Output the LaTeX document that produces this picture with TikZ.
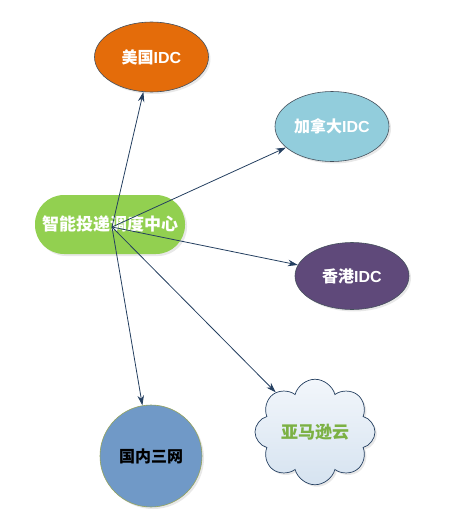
\documentclass[tikz,border=0pt]{standalone}
\usepackage{fontspec}
\setmainfont{Liberation Sans}
\newfontfamily\cjk{Noto Sans CJK SC}
\usetikzlibrary{arrows.meta,shapes.geometric,shapes.symbols,shadows}
\definecolor{hubgreen}{HTML}{92D050}
\definecolor{usaorange}{HTML}{E46C0A}
\definecolor{cadblue}{HTML}{92CDDC}
\definecolor{hkpurple}{HTML}{5F497A}
\definecolor{cnblue}{HTML}{7099C7}
\definecolor{cnrim}{HTML}{94A35C}
\definecolor{rimgray}{HTML}{45505C}
\definecolor{linkblue}{HTML}{243F60}
\definecolor{cloudtop}{HTML}{F2F6FB}
\definecolor{cloudbot}{HTML}{D6E3F0}
\tikzset{
  soft/.style={drop shadow={opacity=0.18, shadow xshift=2pt, shadow yshift=-2pt}},
  idc/.style={ellipse, draw=rimgray, line width=0.6pt, inner sep=0pt, soft,
    minimum width=114pt, minimum height=70pt, text=white,
    font=\fontsize{16}{18}\selectfont\bfseries},
  link/.style={draw=linkblue, line width=0.8pt, -{Stealth[length=10pt,width=6.5pt]}},
}

\begin{document}
\begin{tikzpicture}[x=1pt, y=-1pt]
  \useasboundingbox (0,0) rectangle (453,528);

  \node[fill=hubgreen, rounded corners=29pt, minimum width=150pt, minimum height=59pt, soft,
        text=white, font=\fontsize{17}{19}\selectfont\bfseries\cjk] (hub) at (110,224.5) {智能投递调度中心};
  \coordinate (fan) at (112,227);

  \node[idc, fill=usaorange] (usa) at (151.5,57) {{\cjk 美国}IDC};
  \node[idc, fill=cadblue]   (can) at (332,126.5) {{\cjk 加拿大}IDC};
  \node[idc, fill=hkpurple, minimum height=67pt] (hk) at (352,276) {{\cjk 香港}IDC};

  \node[circle, fill=cnblue, draw=cnrim, line width=0.6pt, minimum size=102pt, inner sep=0pt, soft,
        font=\fontsize{16}{18}\selectfont\bfseries\cjk] (cn) at (151,456) {国内三网};
  \node[cloud, cloud puffs=8, aspect=1.15, draw=linkblue, line width=0.7pt, inner sep=0pt,
        minimum width=120pt, minimum height=105pt, top color=cloudtop, bottom color=cloudbot, soft,
        text=hubgreen!85!black, font=\fontsize{17}{19}\selectfont\bfseries\cjk] (aws) at (315,432) {亚马逊云};

  % links fan out from the hub
  \draw[link] (fan) -- (usa);
  \draw[link] (fan) -- (can);
  \draw[link] (fan) -- (hk);
  \draw[link] (fan) -- (cn);
  \draw[link] (fan) -- (aws);
\end{tikzpicture}
\end{document}
